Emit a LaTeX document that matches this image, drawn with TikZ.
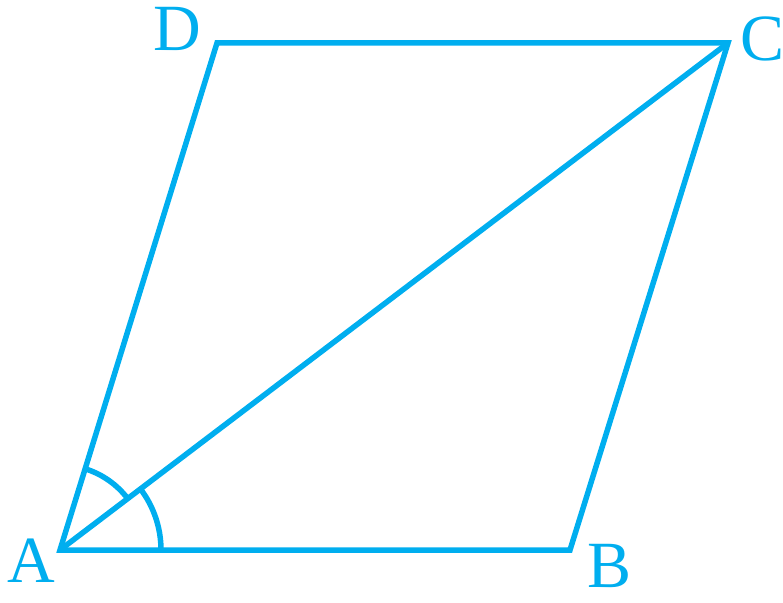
\documentclass[tikz,border=0pt]{standalone}
\usepackage{fontspec}
\setmainfont{Liberation Serif}
\definecolor{geo}{HTML}{00AEEF}
\begin{document}
\begin{tikzpicture}[x=1pt,y=1pt,
  edge/.style={draw=geo,line width=5.5pt,line join=miter},
  lab/.style={text=geo,font=\fontsize{66}{66}\selectfont,inner sep=0pt}]
\useasboundingbox (0,0) rectangle (783,602);
\coordinate (A) at (60,52);
\coordinate (B) at (570,52);
\coordinate (C) at (728,559);
\coordinate (D) at (217,559);
\draw[edge] (A) -- (B) -- (C) -- (D) -- cycle;
\draw[edge] (A) -- (C);
\draw[edge] ([shift={(0:101)}]A) arc[start angle=0,end angle=37.2,radius=101];
\draw[edge] ([shift={(37.2:85)}]A) arc[start angle=37.2,end angle=72.8,radius=85];
\node[lab] (la) at (31,41) {A};
\node[lab] (lb) at (609,36) {B};
\node[lab] (lc) at (762,563) {C};
\node[lab] (ld) at (177,573) {D};
\end{tikzpicture}
\end{document}
